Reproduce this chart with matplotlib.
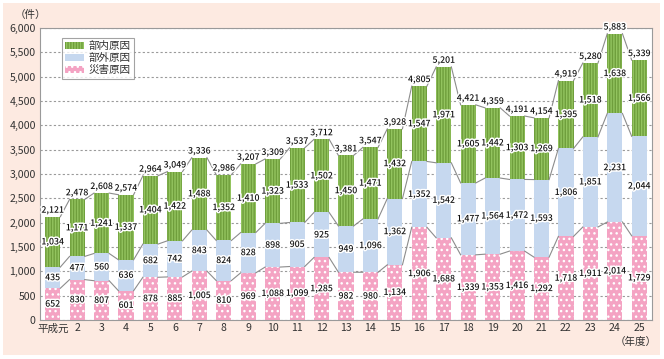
import matplotlib
matplotlib.use("Agg")
import matplotlib.pyplot as plt
import matplotlib.patheffects as pe
from matplotlib.patches import Rectangle, Patch
import numpy as np

plt.rcParams['font.family'] = ['Noto Sans CJK JP', 'DejaVu Sans']
plt.rcParams['hatch.linewidth'] = 1.0

years = ["平成元", "2", "3", "4", "5", "6", "7", "8", "9", "10", "11", "12", "13",
         "14", "15", "16", "17", "18", "19", "20", "21", "22", "23", "24", "25"]
disaster = [652, 830, 807, 601, 878, 885, 1005, 810, 969, 1088, 1099, 1285, 982,
            980, 1134, 1906, 1688, 1339, 1353, 1416, 1292, 1718, 1911, 2014, 1729]
external = [435, 477, 560, 636, 682, 742, 843, 824, 828, 898, 905, 925, 949,
            1096, 1362, 1352, 1542, 1477, 1564, 1472, 1593, 1806, 1851, 2231, 2044]
internal = [1034, 1171, 1241, 1337, 1404, 1422, 1488, 1352, 1410, 1323, 1533, 1502, 1450,
            1471, 1432, 1547, 1971, 1605, 1442, 1303, 1269, 1395, 1518, 1638, 1566]
totals = [2121, 2478, 2608, 2574, 2964, 3049, 3336, 2986, 3207, 3309, 3537, 3712, 3381,
          3547, 3928, 4805, 5201, 4421, 4359, 4191, 4154, 4919, 5280, 5883, 5339]

names = ["部内原因", "部外原因", "災害原因"]
c_green, c_green_h = "#93c45f", "#6f9e3c"
c_blue = "#c6d8ef"
c_pink, c_pink_h = "#f4a3c3", "#ffffff"
h_green, h_pink = "||||||", "..."

fig = plt.figure(figsize=(6.64, 3.59), dpi=100, facecolor="white")
fig.patches.append(Rectangle((3 / 664, 4 / 359), 657 / 664, 352 / 359,
                             transform=fig.transFigure, facecolor="#fdeae1",
                             edgecolor="none", zorder=-10))
ax = fig.add_axes([40 / 664, 39 / 359, 612 / 664, 292 / 359])
ax.set_facecolor("white")

x = np.arange(len(years))
w = 0.62
d = np.array(disaster)
e = np.array(external)
i_ = np.array(internal)

ax.bar(x, d, w, color=c_pink, edgecolor=c_pink_h, hatch=h_pink, linewidth=0, zorder=2)
ax.bar(x, e, w, bottom=d, color=c_blue, linewidth=0, zorder=2)
ax.bar(x, i_, w, bottom=d + e, color=c_green, edgecolor=c_green_h, hatch=h_green,
       linewidth=0, zorder=2)

# connector lines
for lvl in [d, d + e, d + e + i_]:
    for k in range(len(x) - 1):
        ax.plot([x[k] + w / 2, x[k + 1] - w / 2], [lvl[k], lvl[k + 1]],
                color="#8c8c8c", lw=0.8, zorder=3)

stroke = [pe.withStroke(linewidth=2.2, foreground="white")]
tk = dict(ha="center", va="center", fontsize=6.3, fontweight="medium", color="#111111",
          path_effects=stroke, zorder=5)
for k in range(len(x)):
    ax.text(x[k], d[k] / 2, f"{disaster[k]:,}", **tk)
    ax.text(x[k], d[k] + e[k] / 2, f"{external[k]:,}", **tk)
    ax.text(x[k], d[k] + e[k] + i_[k] / 2, f"{internal[k]:,}", **tk)
    ax.annotate(f"{totals[k]:,}", (x[k], totals[k]), xytext=(0, 1.5),
                textcoords="offset points", ha="center", va="bottom",
                fontsize=6.3, fontweight="medium", color="#111111",
                path_effects=stroke, zorder=5)

ax.set_xlim(-0.52, len(x) - 0.48)
ax.set_ylim(0, 6000)
ax.set_yticks(np.arange(0, 6001, 500))
ax.set_yticklabels([f"{v:,}" for v in range(0, 6001, 500)])
ax.set_xticks(x)
ax.set_xticklabels(years)
ax.tick_params(axis="both", length=0, labelsize=7.6, colors="#333333")
ax.tick_params(axis="y", pad=3)
ax.tick_params(axis="x", pad=2.5)
ax.yaxis.grid(True, color="#9a9a9a", lw=0.8, linestyle=(0, (2, 2)))
ax.set_axisbelow(True)
for s in ax.spines.values():
    s.set_color("#9a9a9a")
    s.set_linewidth(0.8)

fig.text(30 / 664, 1 - 15 / 359, "（件）", ha="center", va="center", fontsize=7.6,
         color="#333333")
fig.text(636 / 664, 1 - 342 / 359, "（年度）", ha="center", va="center", fontsize=7.6,
         color="#333333")

handles = [Patch(facecolor=c_green, edgecolor=c_green_h, hatch=h_green, linewidth=0),
           Patch(facecolor=c_blue, edgecolor="none", linewidth=0),
           Patch(facecolor=c_pink, edgecolor=c_pink_h, hatch=h_pink, linewidth=0)]
leg = ax.legend(handles, names, loc="upper left", bbox_to_anchor=(0.036, 0.966),
                fontsize=7.6, frameon=True, fancybox=False, handlelength=1.8,
                handleheight=0.6, handletextpad=0.4, labelspacing=0.2,
                borderpad=0.3, borderaxespad=0)
leg.get_frame().set_edgecolor("#8c8c8c")
leg.get_frame().set_linewidth(0.8)
leg.set_zorder(6)
for t in leg.get_texts():
    t.set_color("#333333")

fig.savefig("out.png", dpi=100, facecolor="white")
